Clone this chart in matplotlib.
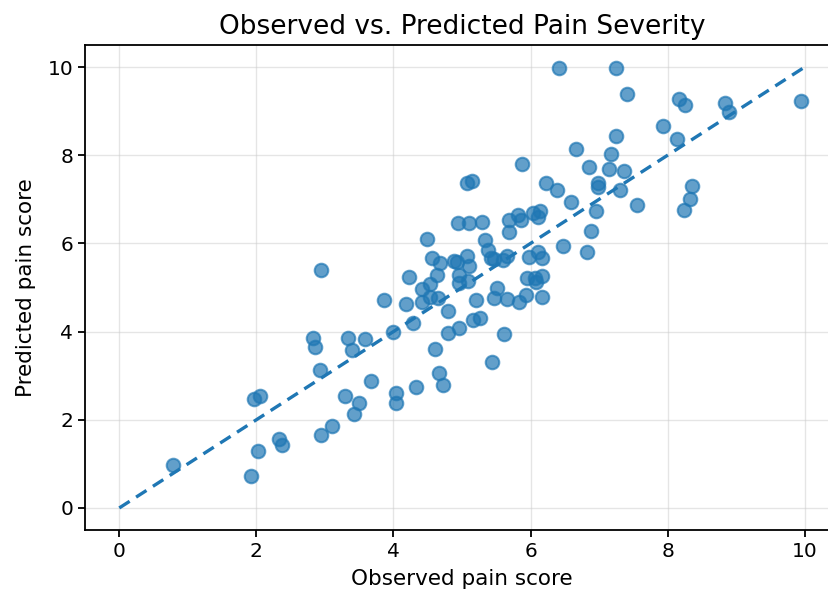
import matplotlib
matplotlib.use("Agg")
import matplotlib.pyplot as plt
import numpy as np

# observed / predicted pain scores
observed = [
    0.78, 1.92, 2.03, 1.96, 2.06, 2.33, 2.38, 2.83, 2.86, 2.93,
    2.95, 2.95, 3.11, 3.30, 3.34, 3.39, 3.42, 3.50, 3.59, 3.67,
    3.86, 3.99, 4.04, 4.04, 4.19, 4.23, 4.28, 4.33, 4.42, 4.49,
    4.41, 4.53, 4.54, 4.56, 4.60, 4.63, 4.65, 4.68, 4.66, 4.73,
    4.79, 4.80, 4.89, 4.92, 4.94, 4.95, 4.96, 4.96, 5.07, 5.15,
    5.08, 5.10, 5.10, 5.09, 5.16, 5.26, 5.21, 5.29, 5.34, 5.38,
    5.43, 5.47, 5.44, 5.46, 5.51, 5.60, 5.65, 5.62, 5.66, 5.68,
    5.69, 5.81, 5.86, 5.83, 5.88, 5.94, 5.95, 5.98, 6.03, 6.06,
    6.08, 6.11, 6.11, 6.14, 6.16, 6.16, 6.17, 6.23, 6.39, 6.41,
    6.47, 6.59, 6.66, 6.83, 6.85, 6.88, 6.96, 6.98, 6.98, 7.14,
    7.18, 7.24, 7.25, 7.30, 7.36, 7.40, 7.56, 7.93, 8.14, 8.16,
    8.26, 8.35, 8.32, 8.24, 8.83, 8.89, 9.94,
]
predicted = [
    0.98, 0.73, 1.29, 2.46, 2.55, 1.56, 1.43, 3.85, 3.66, 3.14,
    5.40, 1.66, 1.86, 2.55, 3.85, 3.59, 2.14, 2.39, 3.84, 2.87,
    4.71, 4.00, 2.61, 2.37, 4.63, 5.23, 4.19, 2.75, 4.96, 6.10,
    4.66, 4.79, 5.08, 5.67, 3.61, 5.28, 4.77, 5.55, 3.05, 2.78,
    4.47, 3.97, 5.61, 5.58, 6.47, 5.11, 5.28, 4.09, 7.37, 7.41,
    5.71, 6.47, 5.49, 5.15, 4.27, 4.30, 4.71, 6.49, 6.07, 5.86,
    5.67, 5.64, 3.32, 4.77, 5.00, 5.62, 5.72, 3.95, 4.73, 6.26,
    6.52, 6.65, 6.52, 4.68, 7.80, 4.83, 5.21, 5.70, 6.69, 5.21,
    5.13, 5.81, 6.61, 6.73, 5.68, 5.26, 4.79, 7.36, 7.21, 9.98,
    5.94, 6.95, 8.13, 5.81, 7.73, 6.28, 6.73, 7.38, 7.29, 7.68,
    8.03, 8.43, 9.98, 7.21, 7.64, 9.38, 6.86, 8.67, 8.36, 9.27,
    9.15, 7.30, 7.01, 6.75, 9.19, 8.97, 9.23,
]
diag = [0, 10]

blue = "#1f77b4"

fig = plt.figure(figsize=(8.29, 6.01), dpi=100)
ax = fig.add_axes([85 / 829, 71 / 601, 754 / 829, 485 / 601])

ax.scatter(observed, predicted, s=95, color=blue, alpha=0.7, linewidths=1.5, zorder=3)
ax.plot(diag, diag, linestyle=(0, (3.7, 2.3)), color=blue, linewidth=2.4, zorder=4)

ax.set_xlim(-0.5, 10.5)
ax.set_ylim(-0.5, 10.5)
ax.set_xticks([0, 2, 4, 6, 8, 10])
ax.set_yticks([0, 2, 4, 6, 8, 10])
ax.grid(True, color="#cccccc", alpha=0.5, linewidth=1)
ax.set_axisbelow(True)

for sp in ax.spines.values():
    sp.set_linewidth(1.3)

ax.tick_params(labelsize=14.5, width=1.3, length=5)
ax.set_xlabel("Observed pain score", fontsize=15.5, labelpad=6)
ax.set_ylabel("Predicted pain score", fontsize=15.5, labelpad=8)
ax.set_title("Observed vs. Predicted Pain Severity", fontsize=19, pad=8)

fig.savefig("out.png", dpi=100)
